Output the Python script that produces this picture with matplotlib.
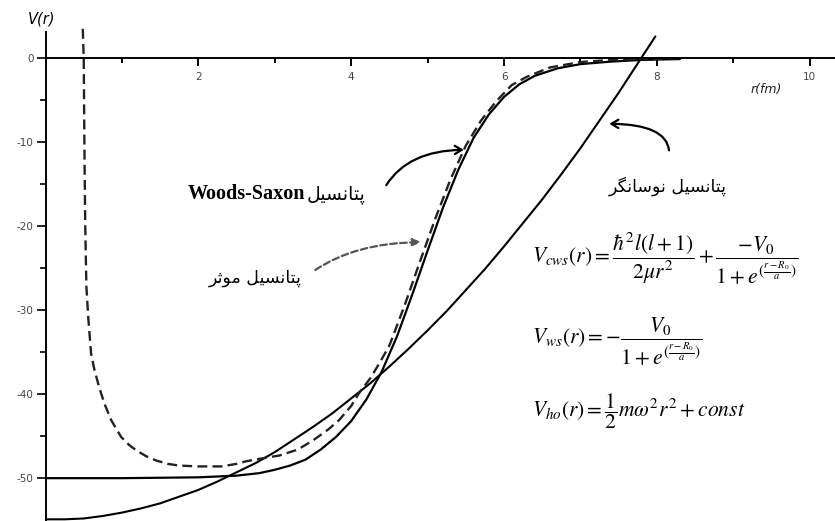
import matplotlib
matplotlib.use("Agg")
import matplotlib.pyplot as plt

plt.rcParams['mathtext.fontset'] = 'stix'

# Woods-Saxon potential (solid)
r_ws = [0.0, 1.0, 2.0, 2.5, 2.8, 3.0, 3.2, 3.4, 3.6, 3.8, 4.0, 4.2, 4.4, 4.6,
        4.8, 5.0, 5.2, 5.4, 5.6, 5.8, 6.0, 6.2, 6.4, 6.7, 7.0, 7.4, 7.8, 8.3]
v_ws = [-50.0, -50.0, -49.9, -49.7, -49.4, -49.0, -48.5, -47.8, -46.6, -45.1,
        -43.2, -40.6, -37.3, -33.1, -28.1, -22.9, -17.8, -13.3, -9.5, -6.7,
        -4.6, -3.1, -2.1, -1.2, -0.7, -0.4, -0.2, -0.1]

# harmonic oscillator potential (solid)
r_ho = [0.0, 0.25, 0.5, 0.75, 1.0, 1.25, 1.5, 1.75, 2.0, 2.25, 2.5, 2.75, 3.0,
        3.25, 3.5, 3.75, 4.0, 4.25, 4.5, 4.75, 5.0, 5.25, 5.5, 5.75, 6.0, 6.25,
        6.5, 6.75, 7.0, 7.25, 7.5, 7.75, 7.98]
v_ho = [-54.9, -54.9, -54.8, -54.5, -54.1, -53.6, -53.0, -52.2, -51.4, -50.4,
        -49.3, -48.2, -46.9, -45.4, -43.9, -42.3, -40.5, -38.7, -36.7, -34.6,
        -32.4, -30.1, -27.6, -25.1, -22.4, -19.6, -16.8, -13.8, -10.7, -7.4,
        -4.1, -0.6, 2.6]

# effective (centrifugal + Woods-Saxon) potential (dashed)
r_eff = [0.488, 0.50, 0.51, 0.52, 0.535, 0.562, 0.597, 0.64, 0.70, 0.77, 0.86,
         0.99, 1.10, 1.19, 1.32, 1.45, 1.6, 1.75, 2.0, 2.3, 2.5, 2.62, 2.8,
         3.06, 3.3, 3.5, 3.7, 3.84, 4.0, 4.1, 4.25, 4.37, 4.5, 4.7, 4.9, 5.1,
         5.3, 5.5, 5.7, 5.9, 6.1, 6.3, 6.6, 7.0, 7.4, 7.8, 8.3]
v_eff = [3.5, 0.0, -11.3, -20.0, -27.2, -31.2, -35.2, -37.1, -39.1, -41.1,
         -43.1, -45.1, -46.1, -46.7, -47.4, -47.9, -48.3, -48.5, -48.6, -48.6,
         -48.3, -48.0, -47.7, -47.3, -46.6, -45.5, -44.2, -43.1, -41.4, -39.9,
         -38.1, -36.3, -34.2, -29.4, -24.2, -19.1, -14.4, -10.4, -7.4, -5.1,
         -3.2, -2.2, -1.1, -0.45, -0.2, -0.1, 0.0]

x_major = [2, 4, 6, 8, 10]
x_minor = [1, 3, 5, 7, 9]
y_major = [0, -10, -20, -30, -40, -50]
y_minor = [-5, -15, -25, -35, -45]

# presentation forms: isolated, final, initial, medial
FORMS = {
    'ا': ('\uFE8D', '\uFE8E', None, None),
    'ت': ('\uFE95', '\uFE96', '\uFE97', '\uFE98'),
    'ث': ('\uFE99', '\uFE9A', '\uFE9B', '\uFE9C'),
    'پ': ('\uFB56', '\uFB57', '\uFB58', '\uFB59'),
    'ن': ('\uFEE5', '\uFEE6', '\uFEE7', '\uFEE8'),
    'س': ('\uFEB1', '\uFEB2', '\uFEB3', '\uFEB4'),
    'ی': ('\uFBFC', '\uFBFD', '\uFBFE', '\uFBFF'),
    'ل': ('\uFEDD', '\uFEDE', '\uFEDF', '\uFEE0'),
    'و': ('\uFEED', '\uFEEE', None, None),
    'گ': ('\uFB92', '\uFB93', '\uFB94', '\uFB95'),
    'ر': ('\uFEAD', '\uFEAE', None, None),
    'م': ('\uFEE1', '\uFEE2', '\uFEE3', '\uFEE4'),
}


def farsi(s):
    out = []
    for i, c in enumerate(s):
        if c not in FORMS:
            out.append(c)
            continue
        prev = s[i - 1] if i > 0 else ''
        nxt = s[i + 1] if i + 1 < len(s) else ''
        before = prev in FORMS and FORMS[prev][2] is not None
        after = FORMS[c][2] is not None and nxt in FORMS
        iso, fin, ini, med = FORMS[c]
        if before and after:
            out.append(med)
        elif before:
            out.append(fin)
        elif after:
            out.append(ini)
        else:
            out.append(iso)
    return ''.join(out)[::-1]


W, H = 835, 521
fig = plt.figure(figsize=(W / 100, H / 100), dpi=100)
ax = fig.add_axes([45.5 / W, 0.0, 1 - 45.5 / W, 1 - 28 / H])
ax.set_xlim(0, 10.33)
ax.set_ylim(-55.1, 3.6)

ax.plot(r_ws, v_ws, color='black', lw=1.6, solid_capstyle='round')
ax.plot(r_ho, v_ho, color='black', lw=1.5, solid_capstyle='round')
ax.plot(r_eff, v_eff, color='#222222', lw=1.7, dashes=(4.2, 2.2))

for s in ['top', 'right']:
    ax.spines[s].set_visible(False)
ax.spines['bottom'].set_position(('data', 0))
ax.spines['left'].set_position(('data', 0))
ax.spines['left'].set_bounds(-55.1, 3.1)
for s in ['bottom', 'left']:
    ax.spines[s].set_linewidth(1.4)

ax.set_xticks(x_major)
ax.set_xticks(x_minor, minor=True)
ax.set_yticks(y_major)
ax.set_yticks(y_minor, minor=True)
ax.set_xticklabels([str(v) for v in x_major])
ax.set_yticklabels([str(v) for v in y_major])
ax.tick_params(axis='x', which='major', length=6, width=1.4, pad=4,
               labelsize=7.5, labelcolor='#444444')
ax.tick_params(axis='x', which='minor', length=3.5, width=1.4)
ax.tick_params(axis='y', which='major', length=6.5, width=1.2, pad=2,
               labelsize=7.5, labelcolor='#444444')
ax.tick_params(axis='y', which='minor', length=4, width=1.2)

fig.text(41.5 / W, 1 - 19 / H, 'V(r)', style='italic', fontsize=10.5,
         ha='center', va='center')
fig.text(766 / W, 1 - 90 / H, 'r(fm)', style='italic', fontsize=9,
         ha='center', va='center', color='#222222')

pers_font = 'DejaVu Sans'
ax.text(8.14, -15.2, farsi('پتانسیل نوسانگر'), fontsize=12.5,
        family=pers_font, ha='center', va='center')
ax.text(3.40, -16.2, 'Woods-Saxon', fontsize=14.5, family='Liberation Serif',
        weight='bold', ha='right', va='center')
ax.text(3.42, -16.2, farsi('پتانسیل'), fontsize=13.5, family=pers_font,
        ha='left', va='center')
ax.text(2.74, -26.2, farsi('پتانسیل موثر'), fontsize=12.5, family=pers_font,
        ha='center', va='center')

ax.annotate('', xy=(5.51, -10.9), xytext=(4.44, -15.4),
            arrowprops=dict(arrowstyle='->,head_length=0.5,head_width=0.3',
                            color='black', lw=1.6,
                            connectionstyle='angle3,angleA=60,angleB=0'))
ax.annotate('', xy=(7.34, -7.8), xytext=(8.16, -11.3),
            arrowprops=dict(arrowstyle='->,head_length=0.5,head_width=0.3',
                            color='black', lw=1.6,
                            connectionstyle='angle3,angleA=90,angleB=0'))
ax.annotate('', xy=(4.96, -21.9), xytext=(3.50, -25.4),
            arrowprops=dict(arrowstyle='-|>,head_length=0.5,head_width=0.2',
                            color='#555555', lw=1.6, linestyle=(0, (3, 1.5)),
                            connectionstyle='angle3,angleA=35,angleB=0'))

fig.text(532 / W, 1 - 258.5 / H,
         r'$V_{cws}(r)=\dfrac{\hbar^2 l(l+1)}{2\mu r^2}+\dfrac{-V_0}{1+e^{(\frac{r-R_0}{a})}}$',
         fontsize=15.5, ha='left', va='center')
fig.text(532 / W, 1 - 341 / H,
         r'$V_{ws}(r)=-\dfrac{V_0}{1+e^{(\frac{r-R_0}{a})}}$',
         fontsize=15.5, ha='left', va='center')
fig.text(532 / W, 1 - 411 / H,
         r'$V_{ho}(r)=\dfrac{1}{2}m\omega^2 r^2+const$',
         fontsize=15.5, ha='left', va='center')

fig.savefig('out.png', dpi=100)
